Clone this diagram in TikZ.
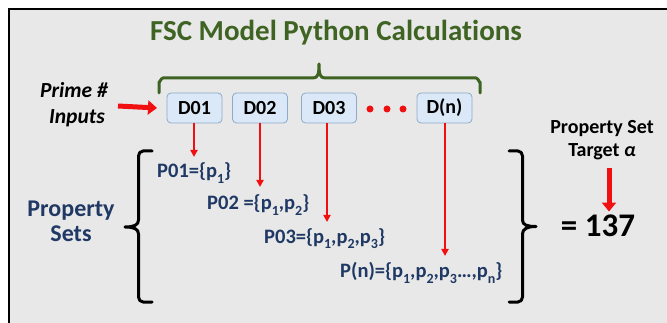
\documentclass[tikz,border=0pt]{standalone}
\usepackage{fontspec}
\setmainfont{Carlito}[Ligatures=NoCommon]
\usetikzlibrary{arrows.meta}
\definecolor{bgray}{HTML}{E8E8E8}
\definecolor{tgreen}{HTML}{3F6322}
\definecolor{navy}{HTML}{1F3864}
\definecolor{boxfill}{HTML}{DAE8F7}
\definecolor{boxline}{HTML}{8EA9CB}
\definecolor{ared}{HTML}{F01010}
\newcommand{\sbs}[1]{\raisebox{-0.25em}{\fontsize{14}{14}\selectfont #1}}
\tikzset{
  dbox/.style={draw=boxline, fill=boxfill, rounded corners=4pt, line width=0.8pt,
    minimum width=55pt, minimum height=30pt, inner sep=0pt,
    font=\fontsize{20}{22}\selectfont\bfseries},
  pset/.style={anchor=west, inner sep=0pt, text=navy, font=\fontsize{20.5}{22}\selectfont\bfseries},
  downarrow/.style={draw=ared, line width=2pt, -{Triangle[length=7pt,width=7pt]}},
  bigarrow/.style={draw=ared, line width=5pt, -{Triangle[length=9pt,width=14pt]}},
  bracepath/.style={line width=3pt, line cap=round, line join=round},
  rdot/.style={circle, fill=ared, inner sep=0pt, minimum size=7pt},
}
\begin{document}
\begin{tikzpicture}[x=1pt,y=-1pt]
\useasboundingbox (0,0) rectangle (667,323);
\fill[white] (0,0) rectangle (667,323);
\draw[fill=bgray, line width=2.5pt] (9,9) rectangle (690,345);

% title
\node[text=tgreen, font=\fontsize{29}{32}\selectfont\bfseries] (title) at (336,33) {FSC Model Python Calculations};

% green brace
\draw[bracepath, draw=tgreen] (159,93) -- (159,82) to[out=-90,in=180] (163,78) -- (313,78)
  .. controls (318,78) and (319,74) .. (319,64)
  .. controls (319,74) and (320,78) .. (325,78) -- (476,78) to[out=0,in=-90] (480,82) -- (480,93);

% prime inputs
\node[font=\fontsize{21.5}{22}\selectfont\bfseries\itshape] (prime) at (74,90) {Prime \#};
\node[font=\fontsize{21.5}{22}\selectfont\bfseries\itshape] (inputs) at (77,118) {Inputs};
\coordinate (pa) at (118,106);

% D boxes
\node[dbox] (d1) at (194.5,108) {D01};
\node[dbox] (d2) at (260,108) {D02};
\node[dbox] (d3) at (329,108) {D03};
\node[dbox] (dn) at (444.5,108) {D(n)};
\node[rdot] (dot1) at (370,109) {};
\node[rdot] (dot2) at (387,109) {};
\node[rdot] (dot3) at (403,109) {};
\draw[bigarrow] (pa) -- (d1.west -| 157,0);

% property sets label
\node[text=navy, font=\fontsize{24}{26}\selectfont\bfseries, align=center] (ps) at (71,221)
  {Property\\[-1pt]Sets};

% sets
\node[pset] (p1) at (157,173) {P01=\{p\sbs{1}\}};
\node[pset] (p2) at (207,205) {P02 =\{p\sbs{1},p\sbs{2}\}};
\node[pset] (p3) at (264,239) {P03=\{p\sbs{1},p\sbs{2},p\sbs{3}\}};
\node[pset] (pn) at (340,273) {P(n)=\{p\sbs{1},p\sbs{2},p\sbs{3}…,p\sbs{n}\}};

\coordinate (e1) at (194,157);
\coordinate (e2) at (260,187);
\coordinate (e3) at (327,222);
\coordinate (en) at (445,256);
\draw[downarrow] (d1.south -| e1) -- (e1);
\draw[downarrow] (d2.south -| e2) -- (e2);
\draw[downarrow] (d3.south -| e3) -- (e3);
\draw[downarrow] (dn.south -| en) -- (en);

% left brace
\draw[bracepath] (152,151) -- (143,151) to[out=180,in=90] (138.5,156) -- (138.5,220)
  .. controls (138.5,225) and (134,227) .. (125,227)
  .. controls (134,227) and (138.5,229) .. (138.5,234) -- (138.5,297) to[out=-90,in=180] (143,302) -- (152,302);

% right brace
\draw[bracepath] (509,151) -- (518,151) to[out=0,in=90] (522.5,156) -- (522.5,220)
  .. controls (522.5,225) and (527,226.5) .. (536,226.5)
  .. controls (527,226.5) and (522.5,229) .. (522.5,234) -- (522.5,297) to[out=-90,in=0] (518,302) -- (509,302);

% target
\node[font=\fontsize{20}{22}\selectfont\bfseries, align=center] (target) at (602,140)
  {Property Set\\[1pt]Target {\itshape α}};
\node[font=\fontsize{33}{36}\selectfont\bfseries] (res) at (598,226) {= 137};
\coordinate (ta) at (609,168);
\draw[bigarrow] (ta) -- (res.north -| ta);
\end{tikzpicture}
\end{document}
